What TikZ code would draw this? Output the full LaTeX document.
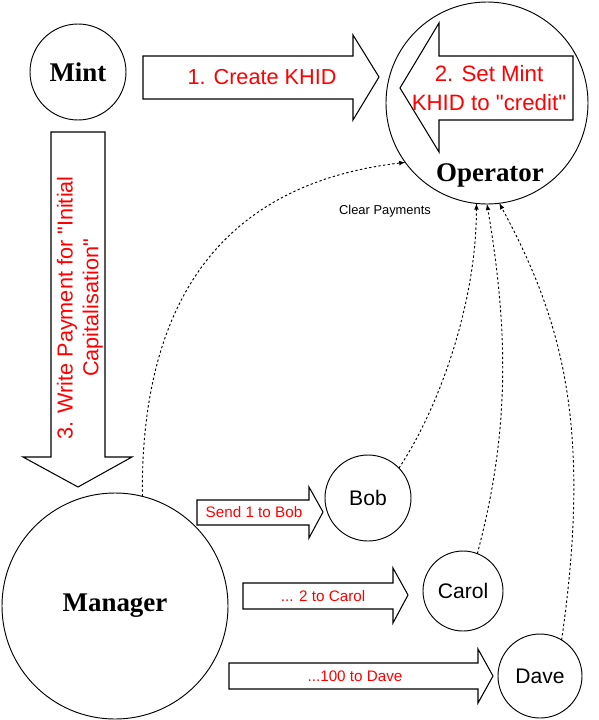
\documentclass[tikz,border=0pt]{standalone}
\usepackage{fontspec}
\setmainfont{Liberation Serif}
\setsansfont{Liberation Sans}
\usetikzlibrary{arrows}

\begin{document}
\begin{tikzpicture}[x=0.03cm,y=-0.03cm,
  party/.style={circle,draw,line width=0.8pt,inner sep=0pt,outer sep=0pt},
  bigname/.style={font=\bfseries\fontsize{23}{25}\selectfont},
  smallname/.style={font=\sffamily\fontsize{18}{20}\selectfont},
  blockarrow/.style={draw,fill=white,line width=0.9pt,line join=miter},
  redbig/.style={text=red,font=\sffamily\fontsize{18.5}{20.5}\selectfont,align=center},
  redsmall/.style={text=red,font=\sffamily\fontsize{13}{15}\selectfont},
  payment/.style={-latex,line width=0.8pt,dash pattern=on 2pt off 2pt}] %pixel grid, y downwards
 \useasboundingbox (0,0) rectangle (599,720);
 % the parties
 \node[party,bigname,minimum size=2.88cm] (mint) at (78,72) {Mint};
 \node[party,minimum size=6.06cm] (operator) at (487,103) {};
 \node[bigname] (oplabel) at (490,175) {Operator};
 \node[party,bigname,minimum size=6.78cm] (manager) at (115,606) {Manager};
 \node[party,smallname,minimum size=2.58cm] (bob) at (368,498) {Bob};
 \node[party,smallname,minimum size=2.4cm] (carol) at (463,591) {Carol};
 \node[party,smallname,minimum size=2.52cm] (dave) at (540,676) {Dave};
 % 1. mint to operator
 \draw[blockarrow] (143,56) -- (353,56) -- (353,35) -- (379,77) -- (353,120) -- (353,99) -- (143,99) -- cycle;
 \node[redbig] (create) at (262,77) {1. Create KHID};
 % 2. inside the operator
 \draw[blockarrow] (573,56) -- (439,56) -- (439,23) -- (400,88) -- (439,152) -- (439,120) -- (573,120) -- cycle;
 \node[redbig,font=\sffamily\fontsize{19}{24}\selectfont] (setmint) at (489,88) {2. Set Mint\\KHID to \textquotedbl credit\textquotedbl};
 % 3. mint to manager
 \draw[blockarrow] (51,132) -- (105,132) -- (105,457) -- (132,457) -- (78,487) -- (23,457) -- (51,457) -- cycle;
 \node[redbig,rotate=90,font=\sffamily\fontsize{18.5}{22}\selectfont] (writepay) at (80,308) {3. Write Payment for \textquotedbl Initial\\Capitalisation\textquotedbl};
 % manager pays out
 \draw[blockarrow] (197,500) -- (309,500) -- (309,487) -- (323,512) -- (309,538) -- (309,525) -- (197,525) -- cycle;
 \node[redsmall] (tobob) at (254,512) {Send 1 to Bob};
 \draw[blockarrow] (243,583) -- (393,583) -- (393,568) -- (408,595) -- (393,623) -- (393,609) -- (243,609) -- cycle;
 \node[redsmall] (tocarol) at (323,596) {... 2 to Carol};
 \draw[blockarrow] (229,663) -- (478,663) -- (478,649) -- (493,676) -- (478,703) -- (478,689) -- (229,689) -- cycle;
 \node[redsmall] (todave) at (355,676) {...100 to Dave};
 % clearing
 \node[font=\sffamily\fontsize{11}{13}\selectfont] (clear) at (385,211) {Clear Payments};
 \draw[payment] (manager.76) .. controls +(-2,-237) and +(-145,17) .. (operator.216);
 \draw[payment] (bob.44) .. controls +(40,-60) and +(0,100) .. (operator.264);
 \draw[payment] (carol.69) .. controls +(32,-120) and +(22,130) .. (operator.270);
 \draw[payment] (dave.59) .. controls +(30,-210) and +(65,120) .. (operator.277);
\end{tikzpicture}
\end{document}
